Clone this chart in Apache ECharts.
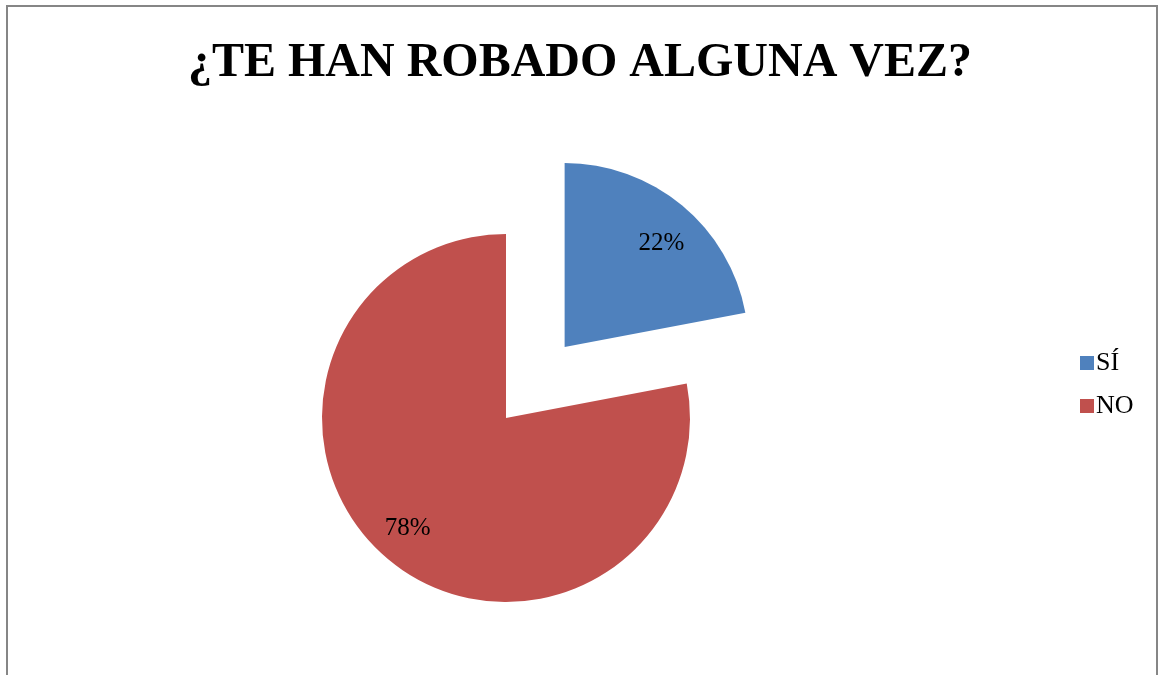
<!DOCTYPE html>
<html>
<head>
<meta charset="utf-8">
<script src="https://cdn.jsdelivr.net/npm/echarts@6/dist/echarts.min.js"></script>
<style>
  html, body { margin: 0; padding: 0; background: #fff; }
  #robo { width: 1160px; height: 675px; }
</style>
</head>
<body>
<div id="robo"></div>
<script>
// datos de la encuesta
var categorias = ['SÍ', 'NO'];
var porcentajes = [22, 78];
var colores = ['#4F81BD', '#C0504D'];

var serif = '"Liberation Serif", "Times New Roman", serif';

var roboChart = echarts.init(document.getElementById('robo'));

var datos = categorias.map(function (c, i) {
    return {
        name: c,
        value: porcentajes[i],
        selected: i === 0,
        itemStyle: { color: colores[i] }
    };
});

var roboOption = {
    animation: false,
    title: {
        text: '¿TE HAN ROBADO ALGUNA VEZ?',
        left: 'center',
        top: 35,
        textStyle: { fontFamily: serif, fontSize: 48, fontWeight: 'bold', color: '#000' }
    },
    legend: {
        orient: 'vertical',
        left: 1075,
        top: 345,
        itemWidth: 14,
        itemHeight: 14,
        itemGap: 17,
        icon: 'rect',
        data: categorias.map(function (c, i) {
            return { name: c, itemStyle: { color: colores[i] } };
        }),
        textStyle: { fontFamily: serif, fontSize: 26, color: '#000', padding: [0, 0, 0, -3] }
    },
    graphic: [{
        type: 'rect',
        shape: { x: 7, y: 6, width: 1150, height: 700 },
        style: { fill: 'none', stroke: '#868686', lineWidth: 2 },
        silent: true
    }],
    series: [
        {
            // tarta visible
            type: 'pie',
            center: [506, 418],
            radius: [0, 184],
            startAngle: 90,
            selectedMode: 'single',
            selectedOffset: 92,
            label: { show: false },
            labelLine: { show: false },
            emphasis: { disabled: true },
            data: datos
        },
        {
            // solo para colocar las etiquetas más hacia fuera
            type: 'pie',
            center: [506, 418],
            radius: [106, 184],
            startAngle: 88,
            selectedMode: 'single',
            selectedOffset: 86,
            silent: true,
            itemStyle: { color: 'rgba(0,0,0,0)' },
            label: {
                show: true,
                position: 'inside',
                formatter: '{d}%',
                fontFamily: serif,
                fontSize: 25,
                color: '#000'
            },
            labelLine: { show: false },
            emphasis: { disabled: true },
            data: categorias.map(function (c, i) {
                return { name: c, value: porcentajes[i], selected: i === 0 };
            })
        }
    ]
};
roboChart.setOption(roboOption);
</script>
</body>
</html>
